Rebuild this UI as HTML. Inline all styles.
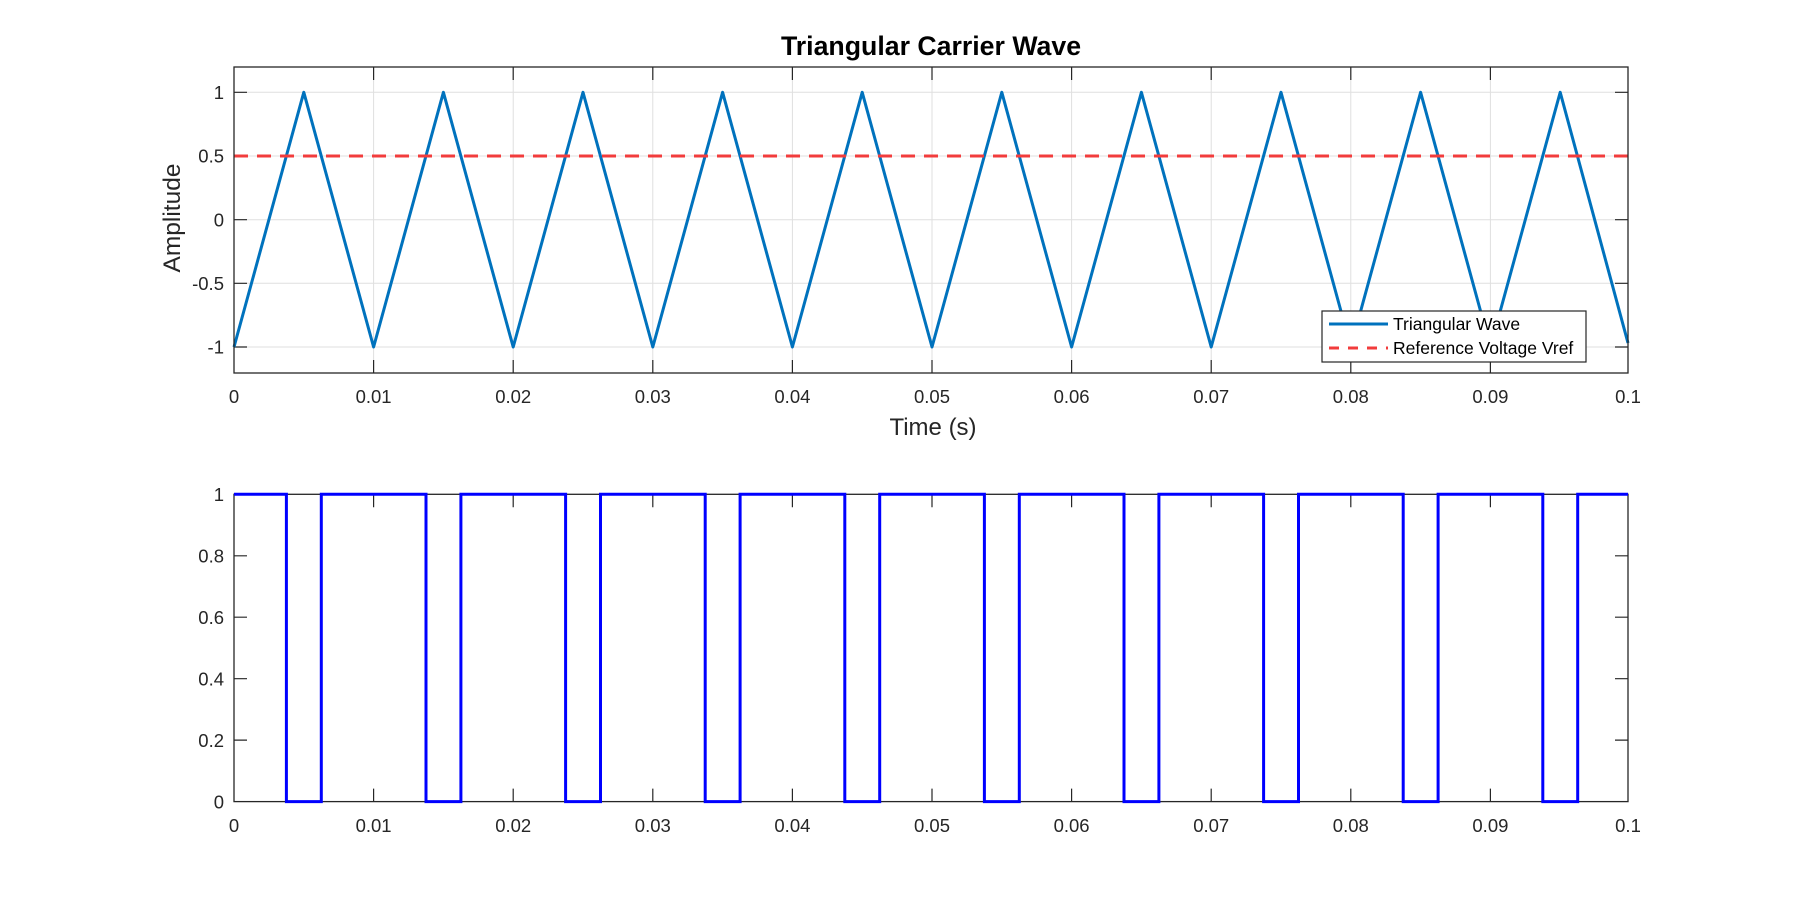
<!DOCTYPE html>
<html><head><meta charset="utf-8"><style>
html,body{margin:0;padding:0;background:#fff;}
svg{display:block;font-family:"Liberation Sans",Arial,sans-serif;}
</style></head><body>
<svg width="1800" height="900" viewBox="0 0 1800 900" xmlns="http://www.w3.org/2000/svg">
<rect width="1800" height="900" fill="#fff"/>
<!-- TOP AXES -->
<g stroke="#dfdfdf" stroke-width="1">
<line x1="373.6" y1="67" x2="373.6" y2="373"/><line x1="513.2" y1="67" x2="513.2" y2="373"/>
<line x1="652.8" y1="67" x2="652.8" y2="373"/><line x1="792.4" y1="67" x2="792.4" y2="373"/>
<line x1="932" y1="67" x2="932" y2="373"/><line x1="1071.6" y1="67" x2="1071.6" y2="373"/>
<line x1="1211.2" y1="67" x2="1211.2" y2="373"/><line x1="1350.8" y1="67" x2="1350.8" y2="373"/>
<line x1="1490.4" y1="67" x2="1490.4" y2="373"/>
<line x1="234" y1="92.3" x2="1628" y2="92.3"/><line x1="234" y1="156" x2="1628" y2="156"/>
<line x1="234" y1="219.7" x2="1628" y2="219.7"/><line x1="234" y1="283.3" x2="1628" y2="283.3"/>
<line x1="234" y1="347" x2="1628" y2="347"/>
</g>
<g stroke="#262626" stroke-width="1.2">
<path d="M373.6 373v-13M513.2 373v-13M652.8 373v-13M792.4 373v-13M932 373v-13M1071.6 373v-13M1211.2 373v-13M1350.8 373v-13M1490.4 373v-13"/>
<path d="M373.6 67v13M513.2 67v13M652.8 67v13M792.4 67v13M932 67v13M1071.6 67v13M1211.2 67v13M1350.8 67v13M1490.4 67v13"/>
<path d="M234 92.3h13M234 156h13M234 219.7h13M234 283.3h13M234 347h13"/>
<path d="M1628 92.3h-13M1628 156h-13M1628 219.7h-13M1628 283.3h-13M1628 347h-13"/>
</g>
<polyline fill="none" stroke="#0072BD" stroke-width="3" stroke-linejoin="round" points="234,347 303.8,92.3 373.6,347 443.4,92.3 513.2,347 583,92.3 652.8,347 722.6,92.3 792.4,347 862.2,92.3 932,347 1001.8,92.3 1071.6,347 1141.4,92.3 1211.2,347 1281,92.3 1350.8,347 1420.6,92.3 1490.4,347 1560.2,92.3 1628,343"/>
<line x1="234" y1="156" x2="1628" y2="156" stroke="#f23c3c" stroke-width="3" stroke-dasharray="14,9"/>
<rect x="234" y="67" width="1394" height="306" fill="none" stroke="#262626" stroke-width="1.3"/>
<!-- legend -->
<rect x="1322" y="311" width="264" height="51" fill="#fff" stroke="#262626" stroke-width="1.2"/>
<line x1="1329" y1="324" x2="1388" y2="324" stroke="#0072BD" stroke-width="3"/>
<line x1="1329" y1="348" x2="1388" y2="348" stroke="#f23c3c" stroke-width="3" stroke-dasharray="10,9"/>
<g font-size="17.5" fill="#000">
<text x="1393" y="330">Triangular Wave</text>
<text x="1393" y="354">Reference Voltage Vref</text>
</g>
<g font-size="18.5" fill="#262626" text-anchor="middle">
<text x="234" y="403">0</text><text x="373.6" y="403">0.01</text><text x="513.2" y="403">0.02</text>
<text x="652.8" y="403">0.03</text><text x="792.4" y="403">0.04</text><text x="932" y="403">0.05</text>
<text x="1071.6" y="403">0.06</text><text x="1211.2" y="403">0.07</text><text x="1350.8" y="403">0.08</text>
<text x="1490.4" y="403">0.09</text><text x="1628" y="403">0.1</text>
</g>
<g font-size="18.5" fill="#262626" text-anchor="end">
<text x="224" y="99">1</text><text x="224" y="162.5">0.5</text><text x="224" y="226.5">0</text>
<text x="224" y="290">-0.5</text><text x="224" y="353.5">-1</text>
</g>
<text x="933" y="435" font-size="24" fill="#262626" text-anchor="middle">Time (s)</text>
<text transform="translate(180,218) rotate(-90)" font-size="24.5" fill="#262626" text-anchor="middle">Amplitude</text>
<text x="931" y="55" font-size="26.7" font-weight="bold" fill="#000" text-anchor="middle">Triangular Carrier Wave</text>

<!-- BOTTOM AXES -->
<g stroke="#262626" stroke-width="1.2">
<path d="M373.6 801.6v-13M513.2 801.6v-13M652.8 801.6v-13M792.4 801.6v-13M932 801.6v-13M1071.6 801.6v-13M1211.2 801.6v-13M1350.8 801.6v-13M1490.4 801.6v-13"/>
<path d="M373.6 494.3v13M513.2 494.3v13M652.8 494.3v13M792.4 494.3v13M932 494.3v13M1071.6 494.3v13M1211.2 494.3v13M1350.8 494.3v13M1490.4 494.3v13"/>
<path d="M234 555.8h13M234 617.2h13M234 678.7h13M234 740.1h13"/>
<path d="M1628 555.8h-13M1628 617.2h-13M1628 678.7h-13M1628 740.1h-13"/>
</g>
<rect x="234" y="494.3" width="1394" height="307.3" fill="none" stroke="#262626" stroke-width="1.3"/>
<polyline fill="none" stroke="#0000ff" stroke-width="3" points="234,494.3 286.4,494.3 286.4,801.6 321.3,801.6 321.3,494.3 426,494.3 426,801.6 460.9,801.6 460.9,494.3 565.6,494.3 565.6,801.6 600.5,801.6 600.5,494.3 705.2,494.3 705.2,801.6 740.1,801.6 740.1,494.3 844.8,494.3 844.8,801.6 879.7,801.6 879.7,494.3 984.4,494.3 984.4,801.6 1019.3,801.6 1019.3,494.3 1124,494.3 1124,801.6 1158.9,801.6 1158.9,494.3 1263.6,494.3 1263.6,801.6 1298.5,801.6 1298.5,494.3 1403.2,494.3 1403.2,801.6 1438.1,801.6 1438.1,494.3 1542.8,494.3 1542.8,801.6 1577.7,801.6 1577.7,494.3 1628,494.3"/>
<g font-size="18.5" fill="#262626" text-anchor="middle">
<text x="234" y="832">0</text><text x="373.6" y="832">0.01</text><text x="513.2" y="832">0.02</text>
<text x="652.8" y="832">0.03</text><text x="792.4" y="832">0.04</text><text x="932" y="832">0.05</text>
<text x="1071.6" y="832">0.06</text><text x="1211.2" y="832">0.07</text><text x="1350.8" y="832">0.08</text>
<text x="1490.4" y="832">0.09</text><text x="1628" y="832">0.1</text>
</g>
<g font-size="18.5" fill="#262626" text-anchor="end">
<text x="224" y="501">1</text><text x="224" y="562.5">0.8</text><text x="224" y="624">0.6</text>
<text x="224" y="685.5">0.4</text><text x="224" y="747">0.2</text><text x="224" y="808.5">0</text>
</g>
</svg>
</body></html>
